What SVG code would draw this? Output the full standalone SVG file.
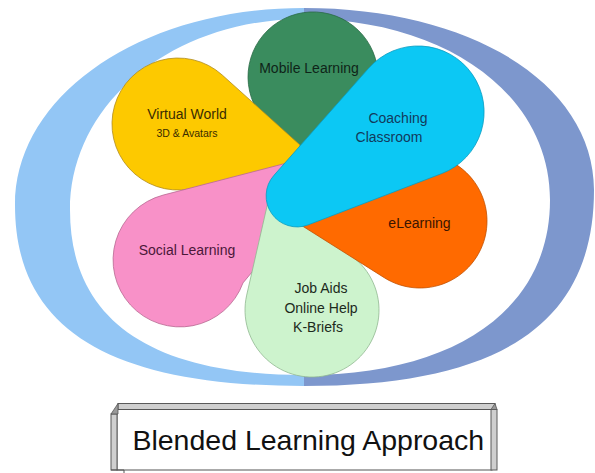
<svg xmlns="http://www.w3.org/2000/svg" width="595" height="473" viewBox="0 0 595 473">
<style>
.lbl{font-family:"Liberation Sans",Arial,sans-serif;font-size:14px;text-anchor:middle}
.petal{stroke-width:0.8}
.band{fill:#cfcfcf;stroke:#5a5a5a;stroke-width:1}
</style>
<rect width="595" height="473" fill="#ffffff"/>
<g id="ring">
<path d="M304,8 C142.2,8 15,94.7 15,205 C15,328.1 107.5,386 304,386 L304,375 C149.6,375 70,318.9 70,210 C70,103 173,19 304,19 Z" fill="#93c6f5"/>
<path d="M304,8 C472.2,8 594,84.4 594,190 C594,323.3 501.2,386 304,386 L304,375 C456.5,375 550,308.5 550,200 C550,95 446.7,19 304,19 Z" fill="#7d97cd"/>
</g>
<g id="mobile">
<path class="petal" d="M300,160 L345.9,133 A65,65 0 1 0 264.6,120.3 Z" fill="#3a8c5e" stroke="#2a6a45"/>
<text class="lbl" x="309" y="72.5" fill="#0f2418">Mobile Learning</text>
</g>
<g id="virtual">
<path class="petal" d="M300,145 L222.2,75 A66,66 0 1 0 189.5,189 L298,162 Z" fill="#fdc900" stroke="#b08c20"/>
<text class="lbl" x="187" y="118.5" fill="#3a2c00">Virtual World</text>
<text class="lbl" x="187" y="136.5" fill="#3a2c00" style="font-size:10.5px">3D &amp; Avatars</text>
</g>
<g id="social">
<path class="petal" d="M310,157 L163.1,195.1 A67,67 0 1 0 243,282.9 L272,248 Z" fill="#f891c8" stroke="#b86a92"/>
<text class="lbl" x="187" y="255" fill="#4a1838">Social Learning</text>
</g>
<g id="jobaids">
<path class="petal" d="M273,180 L358.3,261.6 A67,67 0 1 1 246.7,295.1 Z" fill="#cdf3cd" stroke="#90b890"/>
<text class="lbl" x="321" y="293.3" fill="#1c2a1c">Job Aids</text>
<text class="lbl" x="321" y="313.3" fill="#1c2a1c">Online Help</text>
<text class="lbl" x="318" y="332.3" fill="#1c2a1c">K-Briefs</text>
</g>
<g id="elearning">
<path class="petal" d="M285,215 L389.4,161.4 A67,67 0 1 1 384.3,277.7 Z" fill="#ff6a00" stroke="#c25000"/>
<text class="lbl" x="419.5" y="228.3" fill="#3a1400">eLearning</text>
</g>
<g id="coaching">
<path class="petal" d="M273.8,175.5 L368.6,68.3 A66,66 0 1 1 441.7,173.6 L308.1,224.9 A31,31 0 0 1 273.8,175.5 Z" fill="#0cc8f4" stroke="#0a9cc0"/>
<text class="lbl" x="398" y="123.3" fill="#123a5c">Coaching</text>
<text class="lbl" x="389" y="142.3" fill="#123a5c">Classroom</text>
</g>
<g id="title">
<rect x="118" y="403.5" width="377" height="6" class="band"/>
<rect x="117" y="409.5" width="375" height="60.5" fill="#ffffff" stroke="#555555" stroke-width="1"/>
<rect x="111" y="414" width="6" height="56" class="band"/>
<rect x="491" y="409.5" width="6" height="60.5" class="band"/>
<path d="M118,403.5 L118,414 L111,414 Z" fill="#999" stroke="#555" stroke-width="0.8"/>
<path d="M111,470 L124,470 L124,473" fill="none" stroke="#555" stroke-width="1"/>
<path d="M495,403.5 L497,409.5 L491,409.5 Z" fill="#999" stroke="#555" stroke-width="0.8"/>
<text x="308.3" y="449.5" style="font-family:'Liberation Sans',Arial,sans-serif;font-size:28.5px;text-anchor:middle" fill="#111111">Blended Learning Approach</text>
</g>
</svg>
